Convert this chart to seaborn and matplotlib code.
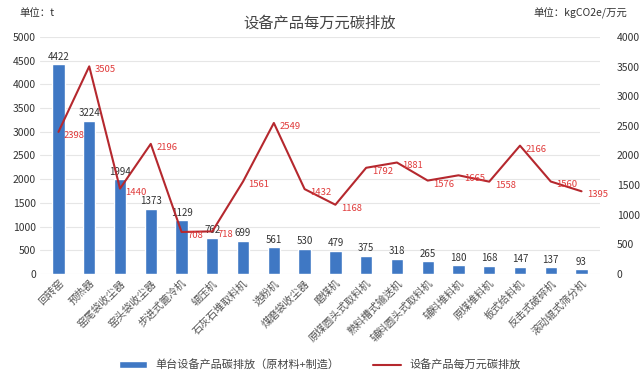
import matplotlib
matplotlib.use("Agg")
import matplotlib.pyplot as plt
import seaborn as sns
import pandas as pd
import numpy as np

categories = ["回转窑", "预热器", "窑尾袋收尘器", "窑头袋收尘器", "步进式篦冷机", "辊压机",
              "石灰石堆取料机", "选粉机", "煤磨袋收尘器", "磨煤机", "原煤圆头式取料机",
              "熟料槽式输送机", "辅料圆头式取料机", "辅料堆料机", "原煤堆料机", "板式给料机",
              "反击式破碎机", "滚动辊式筛分机"]
bar_values = [4422, 3224, 1994, 1373, 1129, 762, 699, 561, 530, 479, 375, 318, 265, 180, 168, 147, 137, 93]
line_values = [2398, 3505, 1440, 2196, 708, 718, 1561, 2549, 1432, 1168, 1792, 1881, 1576, 1665, 1558, 2166, 1560, 1395]
bar_name = "单台设备产品碳排放（原材料+制造）"
line_name = "设备产品每万元碳排放"
title = "设备产品每万元碳排放"
left_ticks = list(range(0, 5001, 500))
right_ticks = list(range(0, 4001, 500))

sns.set_theme(style="white")
plt.rcParams['font.family'] = ['Noto Sans CJK SC', 'DejaVu Sans']

df = pd.DataFrame({"cat": categories, "bar": bar_values, "line": line_values})

fig = plt.figure(figsize=(6.4, 3.82), dpi=100)
ax = fig.add_axes([0.0625, 0.283, 0.875, 0.62])
bar_color = "#3F78C4"
line_color = "#B5282E"
text_red = "#E03A3A"

sns.barplot(data=df, x="cat", y="bar", ax=ax, color=bar_color, width=0.4,
            saturation=1, label=bar_name)
ax.set_ylim(0, 5000)
ax.set_yticks(left_ticks)
ax.set_yticklabels([str(t) for t in left_ticks], fontsize=7.5, color="#333333")
ax.grid(axis="y", color="#E6E6E6", linewidth=0.8)
ax.set_axisbelow(True)
for s in ax.spines.values():
    s.set_visible(False)
ax.set_xlabel("")
ax.set_ylabel("")
ax.tick_params(axis="both", length=0, pad=3)
ax.set_xticks(range(len(categories)))
ax.set_xticklabels(categories, rotation=45, ha="right", rotation_mode="anchor",
                   fontsize=7.5, color="#555555")
for i, v in enumerate(bar_values):
    ax.annotate(str(v), (i, v), xytext=(0, 2), textcoords="offset points",
                ha="center", va="bottom", fontsize=7, color="#333333")
ax.set_xlim(-0.6, len(categories) - 0.4)

ax2 = ax.twinx()
sns.lineplot(data=df, x="cat", y="line", ax=ax2, color=line_color, linewidth=1.5,
             label=line_name, sort=False)
ax2.set_ylim(0, 4000)
ax2.set_yticks(right_ticks)
ax2.set_yticklabels([str(t) for t in right_ticks], fontsize=7.5, color="#333333")
for s in ax2.spines.values():
    s.set_visible(False)
ax2.set_ylabel("")
ax2.tick_params(axis="both", length=0, pad=12)
ax2.grid(False)
for i, v in enumerate(line_values):
    ax2.annotate(str(v), (i, v), xytext=(4, -2.5), textcoords="offset points",
                 ha="left", va="center", fontsize=6.8, color=text_red)

h1, l1 = ax.get_legend_handles_labels()
h2, l2 = ax2.get_legend_handles_labels()
if ax.get_legend():
    ax.get_legend().remove()
if ax2.get_legend():
    ax2.get_legend().remove()
fig.legend(h1 + h2, l1 + l2, loc="center", bbox_to_anchor=(0.5, 0.045), ncol=2,
           frameon=False, fontsize=8, handlelength=2.5, handleheight=0.6,
           columnspacing=3, labelcolor="#444444")

fig.text(0.5, 0.94, title, ha="center", va="center", fontsize=11, color="#444444")
fig.text(0.03, 0.965, "单位：t", ha="left", va="center", fontsize=7.5, color="#333333")
fig.text(0.98, 0.965, "单位：kgCO2e/万元", ha="right", va="center", fontsize=7.5, color="#333333")

fig.savefig("out.png", dpi=100)
